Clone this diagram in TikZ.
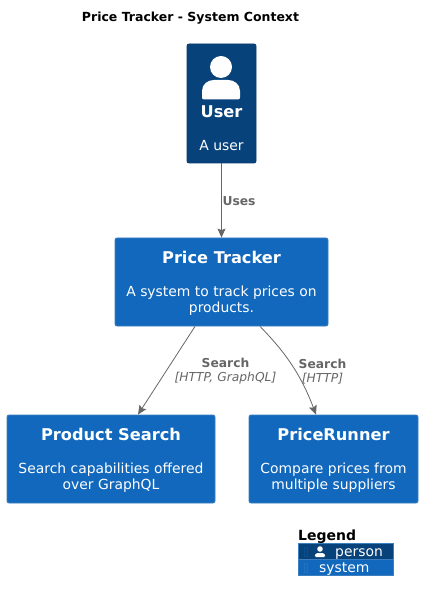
\documentclass[tikz,border=0pt]{standalone}
\usepackage{fontspec}
\setmainfont{DejaVu Sans}
\usepackage{xcolor}
\usetikzlibrary{calc,arrows.meta}
\definecolor{personbg}{HTML}{08427B}
\definecolor{personline}{HTML}{073B6F}
\definecolor{systembg}{HTML}{1168BD}
\definecolor{systemline}{HTML}{3C7FC0}
\definecolor{linkc}{HTML}{666666}
\tikzset{
  box/.style={draw=systemline, fill=systembg, line width=0.8pt, rounded corners=2pt, inner sep=0pt},
  personbox/.style={box, draw=personline, fill=personbg},
  head/.style={text=white, font=\fontsize{16.2}{19}\selectfont\bfseries, inner sep=0pt, align=center},
  desc/.style={text=white, font=\fontsize{13.9}{16.3}\selectfont, inner sep=0pt, align=center},
  link/.style={draw=linkc, line width=0.8pt, -{Stealth[length=9pt,width=8pt,inset=1.5pt]}},
  tag/.style={text=linkc, font=\fontsize{12.3}{14.2}\selectfont, inner sep=0pt, align=center},
  legendrow/.style={text=white, font=\fontsize{13.9}{16}\selectfont, inner sep=0pt, anchor=base west},
  rowbox/.style={draw=systemline, line width=0.4pt, minimum width=94.5pt, minimum height=16.3pt, inner sep=0pt, anchor=north west}
}
\begin{document}
\begin{tikzpicture}[x=1pt,y=-1pt]
  \useasboundingbox (0,0) rectangle (422,601);
  \node[font=\fontsize{12.5}{15}\selectfont\bfseries, inner sep=0pt] (title) at (190.5,18) {Price Tracker - System Context};

  % boxes
  \node[personbox, minimum width=69pt, minimum height=119pt] (user) at (221.5,103.5) {};
  \node[box, minimum width=213pt, minimum height=88pt] (tracker) at (221.5,282) {};
  \node[box, minimum width=208pt, minimum height=88pt] (search) at (111,459) {};
  \node[box, minimum width=169pt, minimum height=88pt] (runner) at (333.5,459) {};

  % person icon
  \fill[white] (221,67) circle (11);
  \fill[white] (204,99.5) .. controls (202.5,99.5) and (202,98.5) .. (202,97) -- (202,91)
    .. controls (202,84) and (208,80) .. (214,80) -- (228,80)
    .. controls (234,80) and (240,84) .. (240,91) -- (240,97)
    .. controls (240,98.5) and (239.5,99.5) .. (238,99.5) -- cycle;

  % texts
  \node[head] (userhead) at (221.5,111.5) {User};
  \node[desc] (userdesc) at (221.5,146) {A user};
  \node[head] (trackerhead) at (221.5,257.5) {Price Tracker};
  \node[desc] (trackerdesc) at (221.5,300.5) {A system to track prices on\\products.};
  \node[head] (searchhead) at (111,434.5) {Product Search};
  \node[desc] (searchdesc) at (111,477.5) {Search capabilities offered\\over GraphQL};
  \node[head] (runnerhead) at (333.5,434.5) {PriceRunner};
  \node[desc] (runnerdesc) at (333.5,477.5) {Compare prices from\\multiple suppliers};

  % connectors
  \draw[link] (user.south) -- (tracker.north);
  \draw[link] ([xshift=-26.5pt]tracker.south) -- ([xshift=27pt]search.north);
  \draw[link] ([xshift=38.5pt]tracker.south) .. controls (283,350) and (300,372) .. ([xshift=-17.5pt]runner.north);
  \node[tag] (useslabel) at (239,201.5) {\textbf{Uses}};
  \node[tag] (searchlabel) at (225.5,371.5) {\textbf{Search}\\\textit{[HTTP, GraphQL]}};
  \node[tag] (runnerlabel) at (322.5,371.5) {\textbf{Search}\\\textit{[HTTP]}};

  % legend
  \node[font=\fontsize{14}{16}\selectfont\bfseries, inner sep=0pt, anchor=base west] (legend) at (298,540) {Legend};
  \node[rowbox, fill=personbg] (personrow) at (298,543) {};
  \node[rowbox, fill=systembg] (systemrow) at (298,559) {};
  \fill[white] (320,549) circle (2.8);
  \fill[white, rounded corners=1.5pt] (314.5,557) -- (315.5,553.2) -- (324.5,553.2) -- (325.5,557) -- cycle;
  \draw[personbg!70!systembg, line width=0.5pt] (304.5,547) rectangle (307.5,556);
  \draw[systemline!45!systembg, line width=0.5pt] (304.5,563) rectangle (307.5,572);
  \node[legendrow] (personname) at (335,556) {person};
  \node[legendrow] (systemname) at (319,572) {system};
\end{tikzpicture}
\end{document}
